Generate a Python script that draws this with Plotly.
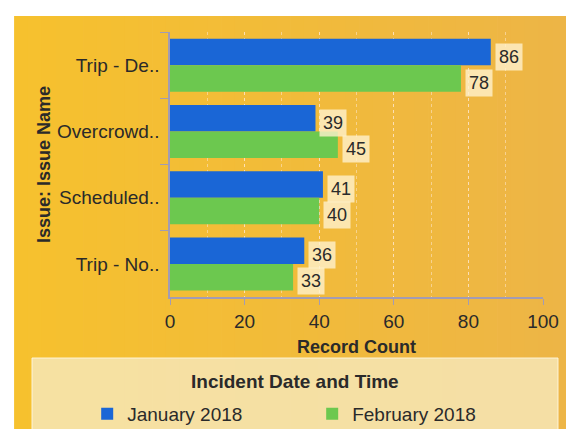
import plotly.graph_objects as go

# Issue names (truncated as displayed) and monthly record counts
categories = ["Trip - De..", "Overcrowd..", "Scheduled..", "Trip - No.."]
jan_counts = [86, 39, 41, 36]
feb_counts = [78, 45, 40, 33]
series_names = ["January 2018", "February 2018"]
x_ticks = [0, 20, 40, 60, 80, 100]

FONT = "Liberation Sans, Arial, sans-serif"
BLUE = "#1A66D6"
GREEN = "#6CC84F"
AXIS = "#A39CB4"
TEXT = "#2a2a2a"

fig = go.Figure()
fig.add_trace(go.Bar(y=categories, x=jan_counts, name=series_names[0], orientation="h",
                     marker=dict(color=BLUE, line=dict(width=0))))
fig.add_trace(go.Bar(y=categories, x=feb_counts, name=series_names[1], orientation="h",
                     marker=dict(color=GREEN, line=dict(width=0))))

# Value labels in light boxes just past each bar end
annotations = []
for vals, shift in ((jan_counts, 8.5), (feb_counts, -17.5)):
    for cat, v in zip(categories, vals):
        annotations.append(dict(
            x=v, y=cat, xref="x", yref="y", text=str(v), showarrow=False,
            xanchor="left", yanchor="middle", xshift=4, yshift=shift,
            font=dict(family=FONT, size=18, color=TEXT),
            bgcolor="rgba(255,241,205,0.8)", borderpad=3))

# Legend heading
annotations.append(dict(
    x=0.335, y=-0.317, xref="paper", yref="paper", text="<b>Incident Date and Time</b>",
    showarrow=False, xanchor="center", yanchor="middle",
    font=dict(family=FONT, size=19, color=TEXT)))

# Panel background: horizontal yellow-to-amber shading, then the legend box
shapes = []
x0p, x1p = -0.418, 1.062
y0p, y1p = -0.50, 1.060
c0 = (246, 193, 46)
c1 = (237, 181, 70)
n = 40
for i in range(n):
    t = i / (n - 1)
    col = tuple(round(a + (b - a) * t) for a, b in zip(c0, c1))
    xa = x0p + (x1p - x0p) * i / n
    xb = x0p + (x1p - x0p) * (i + 1) / n + 0.002
    shapes.append(dict(type="rect", xref="paper", yref="paper", x0=xa, x1=xb, y0=y0p, y1=y1p,
                       fillcolor="rgb(%d,%d,%d)" % col, line=dict(width=0), layer="below"))
shapes.append(dict(type="rect", xref="paper", yref="paper",
                   x0=(32 - 170) / 373, x1=(558 - 170) / 373,
                   y0=(297 - 432) / 265, y1=(297 - 358) / 265,
                   fillcolor="rgba(246,230,182,0.85)",
                   line=dict(color="rgba(255,248,225,0.9)", width=1), layer="below"))

GRID = "rgba(255,236,220,0.5)"

fig.update_layout(
    width=566, height=429,
    margin=dict(l=170, r=23, t=32, b=132, autoexpand=False),
    paper_bgcolor="white", plot_bgcolor="rgba(0,0,0,0)",
    barmode="group", bargap=0.2, bargroupgap=0.0,
    font=dict(family=FONT, size=19, color=TEXT),
    showlegend=True,
    legend=dict(orientation="h", x=-0.222, y=-0.4415, xanchor="left", yanchor="middle",
                entrywidth=180, entrywidthmode="pixels", bgcolor="rgba(0,0,0,0)",
                font=dict(family=FONT, size=19, color=TEXT), traceorder="normal"),
    annotations=annotations,
    shapes=shapes,
)

fig.update_xaxes(
    range=[0, 100], tickvals=x_ticks, ticks="outside", ticklen=6, tickcolor=AXIS,
    showline=True, linecolor=AXIS, linewidth=1.5,
    showgrid=True, gridcolor=GRID, griddash="dot", gridwidth=1,
    minor=dict(dtick=10, showgrid=True, gridcolor=GRID, griddash="dot", ticks=""),
    zeroline=False,
    tickfont=dict(family=FONT, size=19, color=TEXT),
    title=dict(text="<b>Record Count</b>", font=dict(family=FONT, size=18, color=TEXT), standoff=10),
    automargin=False,
)
fig.update_yaxes(
    autorange="reversed", categoryorder="array", categoryarray=categories,
    ticks="outside", tickson="boundaries", ticklen=8, tickcolor=AXIS,
    showline=True, linecolor=AXIS, linewidth=1.5, showgrid=False,
    ticklabelstandoff=5,
    tickfont=dict(family=FONT, size=19, color=TEXT),
    title=dict(text="<b>Issue: Issue Name</b>", font=dict(family=FONT, size=18, color=TEXT), standoff=2),
    automargin=False,
)

fig.write_html("out.html")
